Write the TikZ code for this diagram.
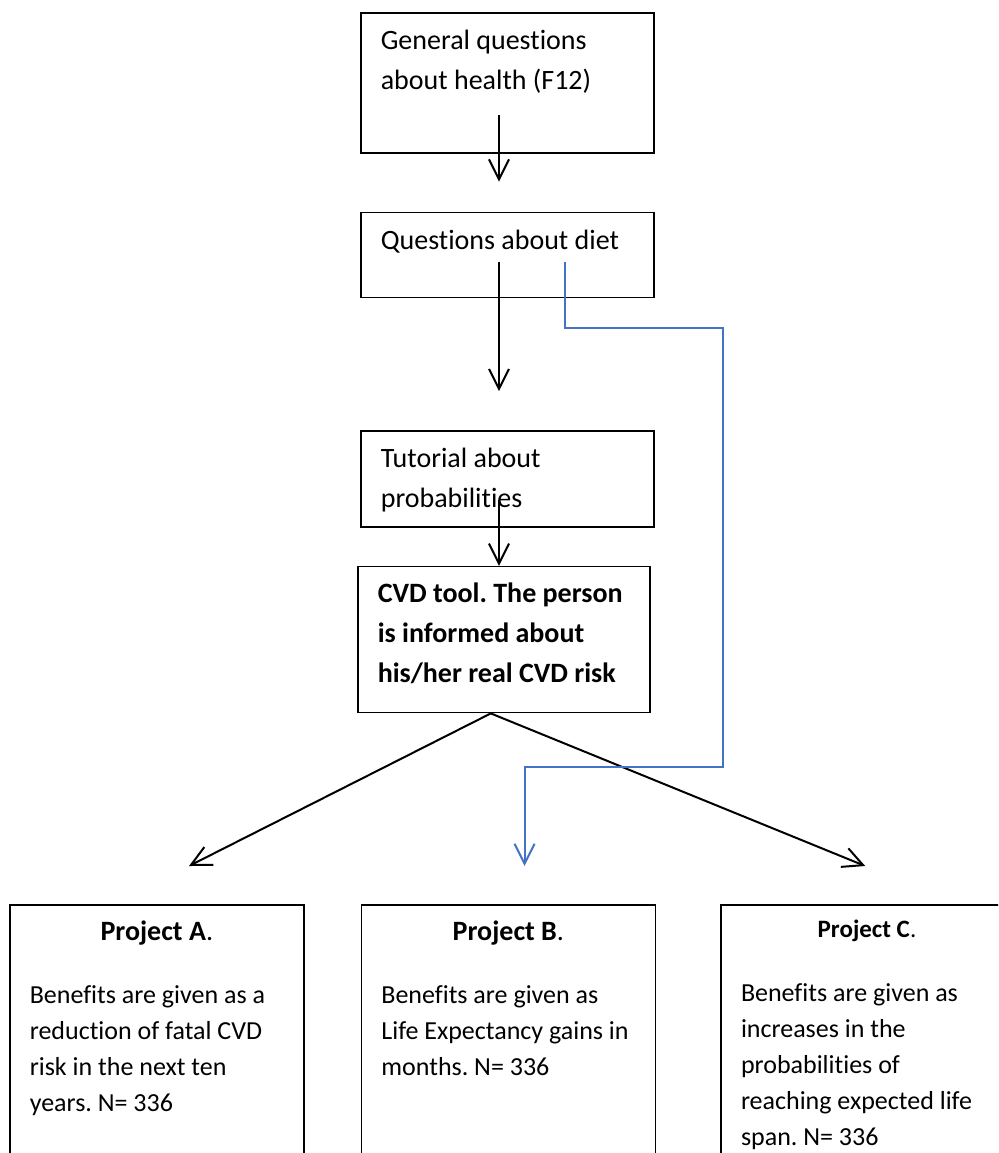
\documentclass[tikz,border=0pt]{standalone}
\usepackage{fontspec}
\setmainfont{Carlito}[Ligatures=NoCommon]
\usepackage{xcolor}
\usepackage{tikz}
\usetikzlibrary{arrows.meta, positioning, calc}
\definecolor{diagblue}{RGB}{68,114,196}
\frenchspacing
% text block inside a box: width, height, first baseline, text
\newcommand{\boxtext}[4]{\parbox[c][#2][t]{#1}{\raggedright\rule{0pt}{#3}#4}}
\tikzset{
  box/.style  = {draw, line width=0.8pt, anchor=north west,
                 inner xsep=10pt, inner ysep=0pt},
  tbox/.style = {box, font=\fontsize{14}{20}\selectfont},
  pbox/.style = {box, font=\fontsize{13}{18}\selectfont},
  arr/.style  = {-{Straight Barb[length=10pt,width=10pt]}, line width=1pt},
  barr/.style = {arr, draw=diagblue}
}

\begin{document}
\begin{tikzpicture}[x=0.5pt, y=-0.5pt]
  \useasboundingbox (0,0) rectangle (998,1153);
  \clip (0,0) rectangle (998,1153);
  % question column
  \node[tbox] (health) at (360,12)
    {\boxtext{126.5pt}{70pt}{18.5pt}{General questions\\about health (F12)}};
  \node[tbox, below=29pt of health.south west, anchor=north west] (diet)
    {\boxtext{126.5pt}{42.5pt}{18.5pt}{Questions about diet}};
  \node[tbox, below=66pt of diet.south west, anchor=north west] (tutorial)
    {\boxtext{126.5pt}{48pt}{18pt}{Tutorial about\\probabilities}};
  \node[tbox, below=19pt of tutorial.south west, anchor=north west,
        xshift=-1.5pt] (cvd)
    {\boxtext{126pt}{73pt}{18pt}{\bfseries CVD tool. The person\\is informed about\\his/her real CVD risk}};
  % projects
  \node[pbox] (projA) at (9,904)
    {\boxtext{127pt}{130.5pt}{18pt}{\centering{\fontsize{14}{18}\selectfont\textbf{Project A}.}\par\vspace{13.5pt}\raggedright
      Benefits are given as a\\reduction of fatal CVD\\risk in the next ten\\years. N= 336}};
  \node[pbox, right=28pt of projA.north east, anchor=north west] (projB)
    {\boxtext{127pt}{130.5pt}{18pt}{\centering{\fontsize{14}{18}\selectfont\textbf{Project B}.}\par\vspace{13.5pt}\raggedright
      Benefits are given as\\Life Expectancy gains in\\months. N= 336}};
  \node[pbox, right=32pt of projB.north east, anchor=north west] (projC)
    {\boxtext{126pt}{130.5pt}{16.5pt}{\centering{\fontsize{12.5}{18}\selectfont\textbf{Project C}.}\par\vspace{14pt}\raggedright
      Benefits are given as\\increases in the\\probabilities of\\reaching expected life\\span. N= 336}};
  % connectors
  \draw[arr] ($(health.north west)+(139,103)$) -- ($(diet.north west)+(139,-30)$);
  \draw[arr] ($(diet.north west)+(139,50)$) -- ($(tutorial.north west)+(139,-39)$);
  \draw[arr] ($(tutorial.north west)+(139,70)$) -- ($(cvd.north west)+(142,0)$);
  \draw[arr] ($(cvd.south)+(-13,0)$) -- ($(projA.north west)+(180,-38)$);
  \draw[arr] ($(cvd.south)+(-13,0)$) -- ($(projC.north west)+(145,-38)$);
  \draw[barr] ($(diet.north west)+(205,50)$) |- ($(diet.north west)+(363,116)$)
    |- ($(projB.north west)+(164,-137)$) -- ($(projB.north west)+(164,-38)$);
\end{tikzpicture}
\end{document}
